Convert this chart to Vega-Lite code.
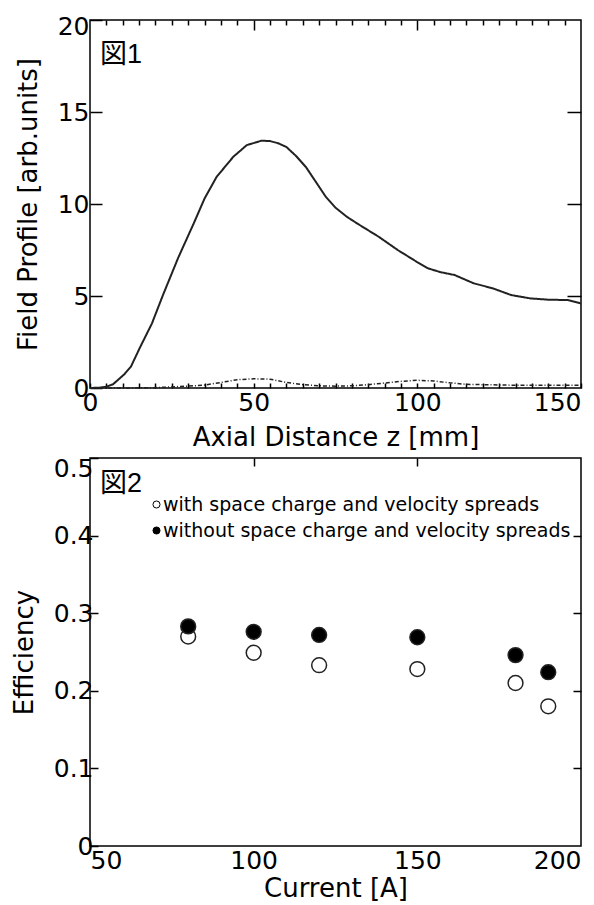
{
  "$schema": "https://vega.github.io/schema/vega-lite/v6.json",
  "padding": {"left": 10, "top": 13, "right": 13, "bottom": 0},
  "background": "white",
  "config": {
    "font": "DejaVu Sans",
    "view": {"stroke": "#000", "strokeWidth": 1.5},
    "axis": {
      "domain": false, "grid": false,
      "labelFont": "DejaVu Sans", "labelFontSize": 25, "labelColor": "#000",
      "titleFont": "DejaVu Sans", "titleFontSize": 26, "titleFontWeight": "normal", "titleColor": "#000",
      "tickColor": "#000", "tickWidth": 1.5, "labelOverlap": false
    }
  },
  "datasets": {
    "profile": [
      {"z": 0, "F": 0, "series": "E"},
      {"z": 3, "F": 0.02, "series": "E"},
      {"z": 5, "F": 0.07, "series": "E"},
      {"z": 7, "F": 0.2, "series": "E"},
      {"z": 8.5, "F": 0.43, "series": "E"},
      {"z": 10.5, "F": 0.75, "series": "E"},
      {"z": 12.5, "F": 1.16, "series": "E"},
      {"z": 15.4, "F": 2.25, "series": "E"},
      {"z": 18.9, "F": 3.5, "series": "E"},
      {"z": 22.4, "F": 5.1, "series": "E"},
      {"z": 27, "F": 7.1, "series": "E"},
      {"z": 31.7, "F": 8.95, "series": "E"},
      {"z": 35, "F": 10.3, "series": "E"},
      {"z": 38.7, "F": 11.48, "series": "E"},
      {"z": 43.8, "F": 12.57, "series": "E"},
      {"z": 47.9, "F": 13.2, "series": "E"},
      {"z": 52.4, "F": 13.44, "series": "E"},
      {"z": 55, "F": 13.42, "series": "E"},
      {"z": 57.5, "F": 13.3, "series": "E"},
      {"z": 60, "F": 13.1, "series": "E"},
      {"z": 63, "F": 12.6, "series": "E"},
      {"z": 66, "F": 12.0, "series": "E"},
      {"z": 69, "F": 11.2, "series": "E"},
      {"z": 72, "F": 10.4, "series": "E"},
      {"z": 75, "F": 9.8, "series": "E"},
      {"z": 78.5, "F": 9.3, "series": "E"},
      {"z": 82, "F": 8.9, "series": "E"},
      {"z": 88.2, "F": 8.22, "series": "E"},
      {"z": 94, "F": 7.5, "series": "E"},
      {"z": 99.8, "F": 6.86, "series": "E"},
      {"z": 103.3, "F": 6.5, "series": "E"},
      {"z": 107, "F": 6.3, "series": "E"},
      {"z": 111.4, "F": 6.14, "series": "E"},
      {"z": 117.2, "F": 5.69, "series": "E"},
      {"z": 123, "F": 5.42, "series": "E"},
      {"z": 128.7, "F": 5.05, "series": "E"},
      {"z": 134.5, "F": 4.87, "series": "E"},
      {"z": 140, "F": 4.8, "series": "E"},
      {"z": 146, "F": 4.78, "series": "E"},
      {"z": 150, "F": 4.6, "series": "E"},
      {"z": 0, "F": 0, "series": "dE"},
      {"z": 10, "F": 0, "series": "dE"},
      {"z": 20, "F": 0.02, "series": "dE"},
      {"z": 25, "F": 0.06, "series": "dE"},
      {"z": 30, "F": 0.1, "series": "dE"},
      {"z": 35, "F": 0.16, "series": "dE"},
      {"z": 40, "F": 0.3, "series": "dE"},
      {"z": 45, "F": 0.45, "series": "dE"},
      {"z": 50, "F": 0.5, "series": "dE"},
      {"z": 55, "F": 0.48, "series": "dE"},
      {"z": 60, "F": 0.3, "series": "dE"},
      {"z": 65, "F": 0.18, "series": "dE"},
      {"z": 70, "F": 0.12, "series": "dE"},
      {"z": 75, "F": 0.1, "series": "dE"},
      {"z": 80, "F": 0.12, "series": "dE"},
      {"z": 85, "F": 0.18, "series": "dE"},
      {"z": 90, "F": 0.27, "series": "dE"},
      {"z": 95, "F": 0.36, "series": "dE"},
      {"z": 100, "F": 0.42, "series": "dE"},
      {"z": 105, "F": 0.38, "series": "dE"},
      {"z": 110, "F": 0.28, "series": "dE"},
      {"z": 115, "F": 0.2, "series": "dE"},
      {"z": 120, "F": 0.18, "series": "dE"},
      {"z": 130, "F": 0.15, "series": "dE"},
      {"z": 140, "F": 0.15, "series": "dE"},
      {"z": 150, "F": 0.15, "series": "dE"}
    ],
    "eff": [
      {"current": 80, "efficiency": 0.27, "case": "with space charge and velocity spreads"},
      {"current": 100, "efficiency": 0.249, "case": "with space charge and velocity spreads"},
      {"current": 120, "efficiency": 0.233, "case": "with space charge and velocity spreads"},
      {"current": 150, "efficiency": 0.228, "case": "with space charge and velocity spreads"},
      {"current": 180, "efficiency": 0.21, "case": "with space charge and velocity spreads"},
      {"current": 190, "efficiency": 0.18, "case": "with space charge and velocity spreads"},
      {"current": 80, "efficiency": 0.283, "case": "without space charge and velocity spreads"},
      {"current": 100, "efficiency": 0.276, "case": "without space charge and velocity spreads"},
      {"current": 120, "efficiency": 0.272, "case": "without space charge and velocity spreads"},
      {"current": 150, "efficiency": 0.269, "case": "without space charge and velocity spreads"},
      {"current": 180, "efficiency": 0.246, "case": "without space charge and velocity spreads"},
      {"current": 190, "efficiency": 0.224, "case": "without space charge and velocity spreads"}
    ]
  },
  "spacing": 70,
  "bounds": "flush",
  "resolve": {"legend": {"fill": "independent"}},
  "vconcat": [
    {
      "width": 491,
      "height": 368,
      "title": {"text": "図1", "anchor": "start", "frame": "group", "orient": "top", "baseline": "top", "offset": -20, "dx": 10, "dy": 35, "fontSize": 27, "fontWeight": "normal", "font": "Liberation Sans, Noto Sans CJK JP", "color": "#000"},
      "layer": [
        {
          "data": {"name": "profile"},
          "mark": {"type": "line", "color": "#222"},
          "encoding": {
            "x": {"field": "z", "type": "quantitative", "scale": {"domain": [0, 150], "nice": false},
              "title": "Axial Distance z [mm]",
              "axis": {"orient": "bottom", "values": [0,5,10,15,20,25,30,35,40,45,50,55,60,65,70,75,80,85,90,95,100,105,110,115,120,125,130,135,140,145,150],
                "labelExpr": "datum.value % 50 === 0 ? datum.label : ''",
                "labelAlign": {"condition": {"test": "datum.value === 150", "value": "right"}, "value": "center"},
                "tickSize": -5, "labelPadding": 7, "titlePadding": 9}},
            "y": {"field": "F", "type": "quantitative", "scale": {"domain": [0, 20], "nice": false},
              "title": "Field Profile [arb.units]",
              "axis": {"orient": "left", "values": [0, 5, 10, 15, 20], "tickSize": -12, "labelPadding": 13, "titlePadding": 16,
                "labelOffset": {"condition": {"test": "datum.value === 20", "value": 6}, "value": 0}}},
            "strokeDash": {"field": "series", "type": "nominal", "scale": {"domain": ["E", "dE"], "range": [[1, 0], [4, 2, 1, 2]]}, "legend": null},
            "strokeWidth": {"field": "series", "type": "nominal", "scale": {"domain": ["E", "dE"], "range": [2, 1.5]}, "legend": null}
          }
        },
        {
          "data": {"name": "profile"},
          "mark": {"type": "point", "opacity": 0},
          "encoding": {
            "x": {"field": "z", "type": "quantitative", "scale": {"domain": [0, 150], "nice": false}, "title": null,
              "axis": {"orient": "top", "labels": false, "values": [5,10,15,20,25,30,35,40,45,50,55,60,65,70,75,80,85,90,95,100,105,110,115,120,125,130,135,140,145],
                "tickSize": {"condition": {"test": "datum.value % 50 === 0", "value": -10}, "value": -5}}},
            "y": {"field": "F", "type": "quantitative", "scale": {"domain": [0, 20], "nice": false}, "title": null,
              "axis": {"orient": "right", "labels": false, "values": [5, 10, 15], "tickSize": -14}}
          }
        }
      ],
      "resolve": {"axis": {"x": "independent", "y": "independent"}}
    },
    {
      "width": 491,
      "height": 388,
      "title": {"text": "図2", "anchor": "start", "frame": "group", "orient": "top", "baseline": "top", "offset": -12, "dx": 10, "dy": 30, "fontSize": 27, "fontWeight": "normal", "font": "Liberation Sans, Noto Sans CJK JP", "color": "#000"},
      "layer": [
        {
          "data": {"name": "eff"},
          "mark": {"type": "point", "shape": "circle", "size": 220, "stroke": "#222", "strokeWidth": 1.5, "opacity": 1},
          "encoding": {
            "x": {"field": "current", "type": "quantitative", "scale": {"domain": [50, 200], "nice": false},
              "title": "Current [A]",
              "axis": {"orient": "bottom", "values": [50, 100, 150, 200], "ticks": false, "labelPadding": 2, "titlePadding": 2,
                "labelAlign": {"condition": [{"test": "datum.value === 200", "value": "right"}, {"test": "datum.value === 50", "value": "left"}], "value": "center"}}},
            "y": {"field": "efficiency", "type": "quantitative", "scale": {"domain": [0, 0.5], "nice": false},
              "title": "Efficiency",
              "axis": {"orient": "left", "values": [0, 0.1, 0.2, 0.3, 0.4, 0.5], "format": "~g", "tickSize": -8, "labelPadding": 5, "titlePadding": 16,
                "labelOffset": {"condition": {"test": "datum.value === 0.5", "value": 10}, "value": 0}}},
            "fill": {"field": "case", "type": "nominal",
              "scale": {"domain": ["with space charge and velocity spreads", "without space charge and velocity spreads"], "range": ["white", "black"]},
              "legend": {"orient": "none", "legendX": 57, "legendY": 37, "title": null, "padding": 0,
                "labelFont": "DejaVu Sans", "labelFontSize": 19, "labelColor": "#000", "labelLimit": 600,
                "symbolType": "circle", "symbolSize": 50, "symbolStrokeColor": "#000", "symbolStrokeWidth": 1, "labelOffset": -3, "rowPadding": 6}}
          }
        },
        {
          "data": {"name": "eff"},
          "mark": {"type": "point", "opacity": 0},
          "encoding": {
            "x": {"field": "current", "type": "quantitative", "scale": {"domain": [50, 200], "nice": false}, "title": null,
              "axis": {"orient": "top", "labels": false, "values": [100, 150], "tickSize": -8}},
            "y": {"field": "efficiency", "type": "quantitative", "scale": {"domain": [0, 0.5], "nice": false}, "title": null,
              "axis": {"orient": "right", "labels": false, "values": [0.1, 0.2, 0.3, 0.4], "tickSize": -8}}
          }
        }
      ],
      "resolve": {"axis": {"x": "independent", "y": "independent"}}
    }
  ]
}
